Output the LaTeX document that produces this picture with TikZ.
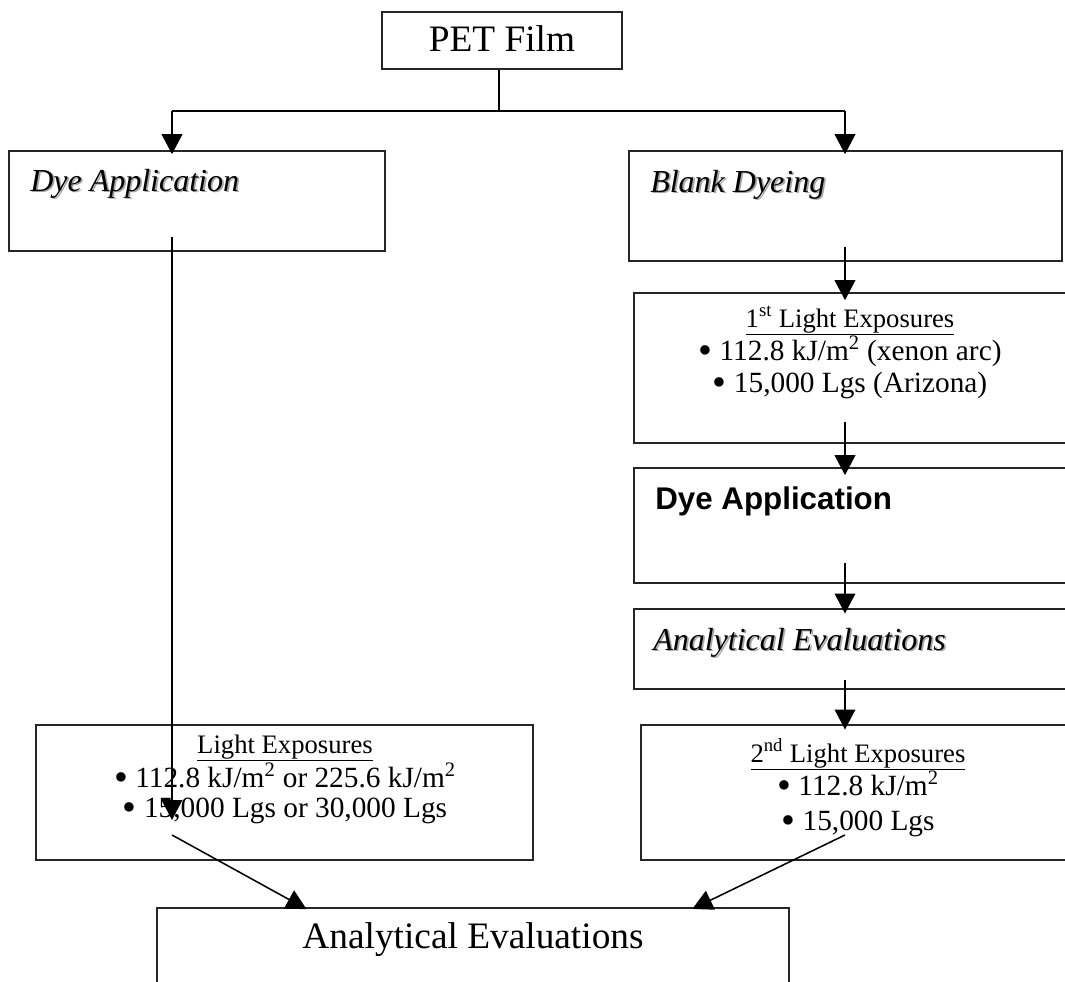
\documentclass[tikz,border=0pt]{standalone}
\usepackage{fontspec}
\setmainfont{Liberation Serif}
\newfontfamily\arialfont{Liberation Sans}
\usetikzlibrary{arrows.meta,calc,fit}
% a heavier list bullet, kept on the middle of the x-height
\newcommand\bul{\raisebox{-0.11em}{\scalebox{1.35}{•}}}

\begin{document}
\begin{tikzpicture}[x=0.75pt,y=-0.75pt,
  box/.style={draw=black!85, line width=1.2pt, inner sep=0pt},
  conn/.style={line width=1.15pt, black},
  arr/.style={conn, -{Triangle[length=15pt,width=15.5pt]}},
  txt/.style={inner sep=0pt, text=black},
  shade/.style={inner sep=0pt, text=black!35},
  big/.style={font=\fontsize{28}{30}\selectfont},
  head/.style={font=\fontsize{20}{22}\selectfont},
  item/.style={font=\fontsize{22}{24}\selectfont},
  ital/.style={font=\fontsize{24}{26}\selectfont\itshape},
  sans/.style={font=\fontsize{23.5}{26}\selectfont\arialfont\bfseries}]

\useasboundingbox (0,0) rectangle (1065,982);
\clip (0,0) rectangle (1065,982);

% boxes
\node[box, fit={(382,12) (622,69)}] (pet) {};
\node[box, fit={(9,151) (385,251)}] (dyeL) {};
\node[box, fit={(629,151) (1062,261)}] (blank) {};
\node[box, fit={(634,293) (1066,443)}] (lexp1) {};
\node[box, fit={(634,468) (1066,583)}] (dyeR) {};
\node[box, fit={(634,609) (1066,689)}] (anaR) {};
\node[box, fit={(36,725) (533,860)}] (lexpL) {};
\node[box, fit={(641,725) (1075,860)}] (lexp2) {};
\node[box, fit={(157,908) (789,1010)}] (anaB) {};

% labels
\node[txt, big, anchor=base] at (502,51) {PET Film};

\node[shade, ital, anchor=base west] at (31.8,192.8) {Dye Application};
\node[txt, ital, anchor=base west] at (30,191) {Dye Application};

\node[shade, ital, anchor=base west] at (651.8,193.8) {Blank Dyeing};
\node[txt, ital, anchor=base west] at (650,192) {Blank Dyeing};

\node[txt, head, anchor=base] at (850,327) {\underline{1\textsuperscript{st} Light Exposures}};
\node[txt, item, anchor=base] at (850,360) {\bul{} 112.8 kJ/m\textsuperscript{2} (xenon arc)};
\node[txt, item, anchor=base] at (850,392) {\bul{} 15,000 Lgs (Arizona)};

\node[txt, sans, anchor=base west] at (655,509) {Dye Application};

\node[shade, ital, anchor=base west] at (654.8,651.8) {Analytical Evaluations};
\node[txt, ital, anchor=base west] at (653,650) {Analytical Evaluations};

\node[txt, head, anchor=base] at (285,753) {\underline{Light Exposures}};
\node[txt, item, anchor=base] at (285,787) {\bul{} 112.8 kJ/m\textsuperscript{2} or 225.6 kJ/m\textsuperscript{2}};
\node[txt, item, anchor=base] at (285,817) {\bul{} 15,000 Lgs or 30,000 Lgs};

\node[txt, head, anchor=base] at (858,762) {\underline{2\textsuperscript{nd} Light Exposures}};
\node[txt, item, anchor=base] at (858,795) {\bul{} 112.8 kJ/m\textsuperscript{2}};
\node[txt, item, anchor=base] at (858,830) {\bul{} 15,000 Lgs};

\node[txt, big, anchor=base] at (473,948) {Analytical Evaluations};

% split below the film
\coordinate (split) at (499,111);
\coordinate (jL) at (172,111);
\coordinate (jR) at (845,111);
\draw[conn] (pet.south -| split) -- (split);
\draw[conn] (jL) -- (jR);
\draw[arr, shorten >=-3pt] (jL) -- (jL |- dyeL.north);
\draw[arr, shorten >=-3pt] (jR) -- (jR |- blank.north);

% left branch
\coordinate (sL) at (172,237);
\coordinate (tL) at (172,820);
\draw[arr] (sL) -- (tL);

% right branch
\coordinate (s1) at (845,247);
\coordinate (s2) at (845,422);
\coordinate (s3) at (845,563);
\coordinate (s4) at (845,680);
\draw[arr, shorten >=-6pt] (s1) -- (s1 |- lexp1.north);
\draw[arr, shorten >=-6pt] (s2) -- (s2 |- dyeR.north);
\draw[arr, shorten >=-4pt] (s3) -- (s3 |- anaR.north);
\draw[arr, shorten >=-4pt] (s4) -- (s4 |- lexp2.north);

% merge into the final evaluations
\coordinate (dL) at (172,835);
\coordinate (dR) at (845,835);
\coordinate (eL) at (303,908);
\coordinate (eR) at (696,908);
\draw[arr, shorten >=-3pt] (dL) -- (eL |- anaB.north);
\draw[arr, shorten >=-3pt] (dR) -- (eR |- anaB.north);
\end{tikzpicture}
\end{document}
